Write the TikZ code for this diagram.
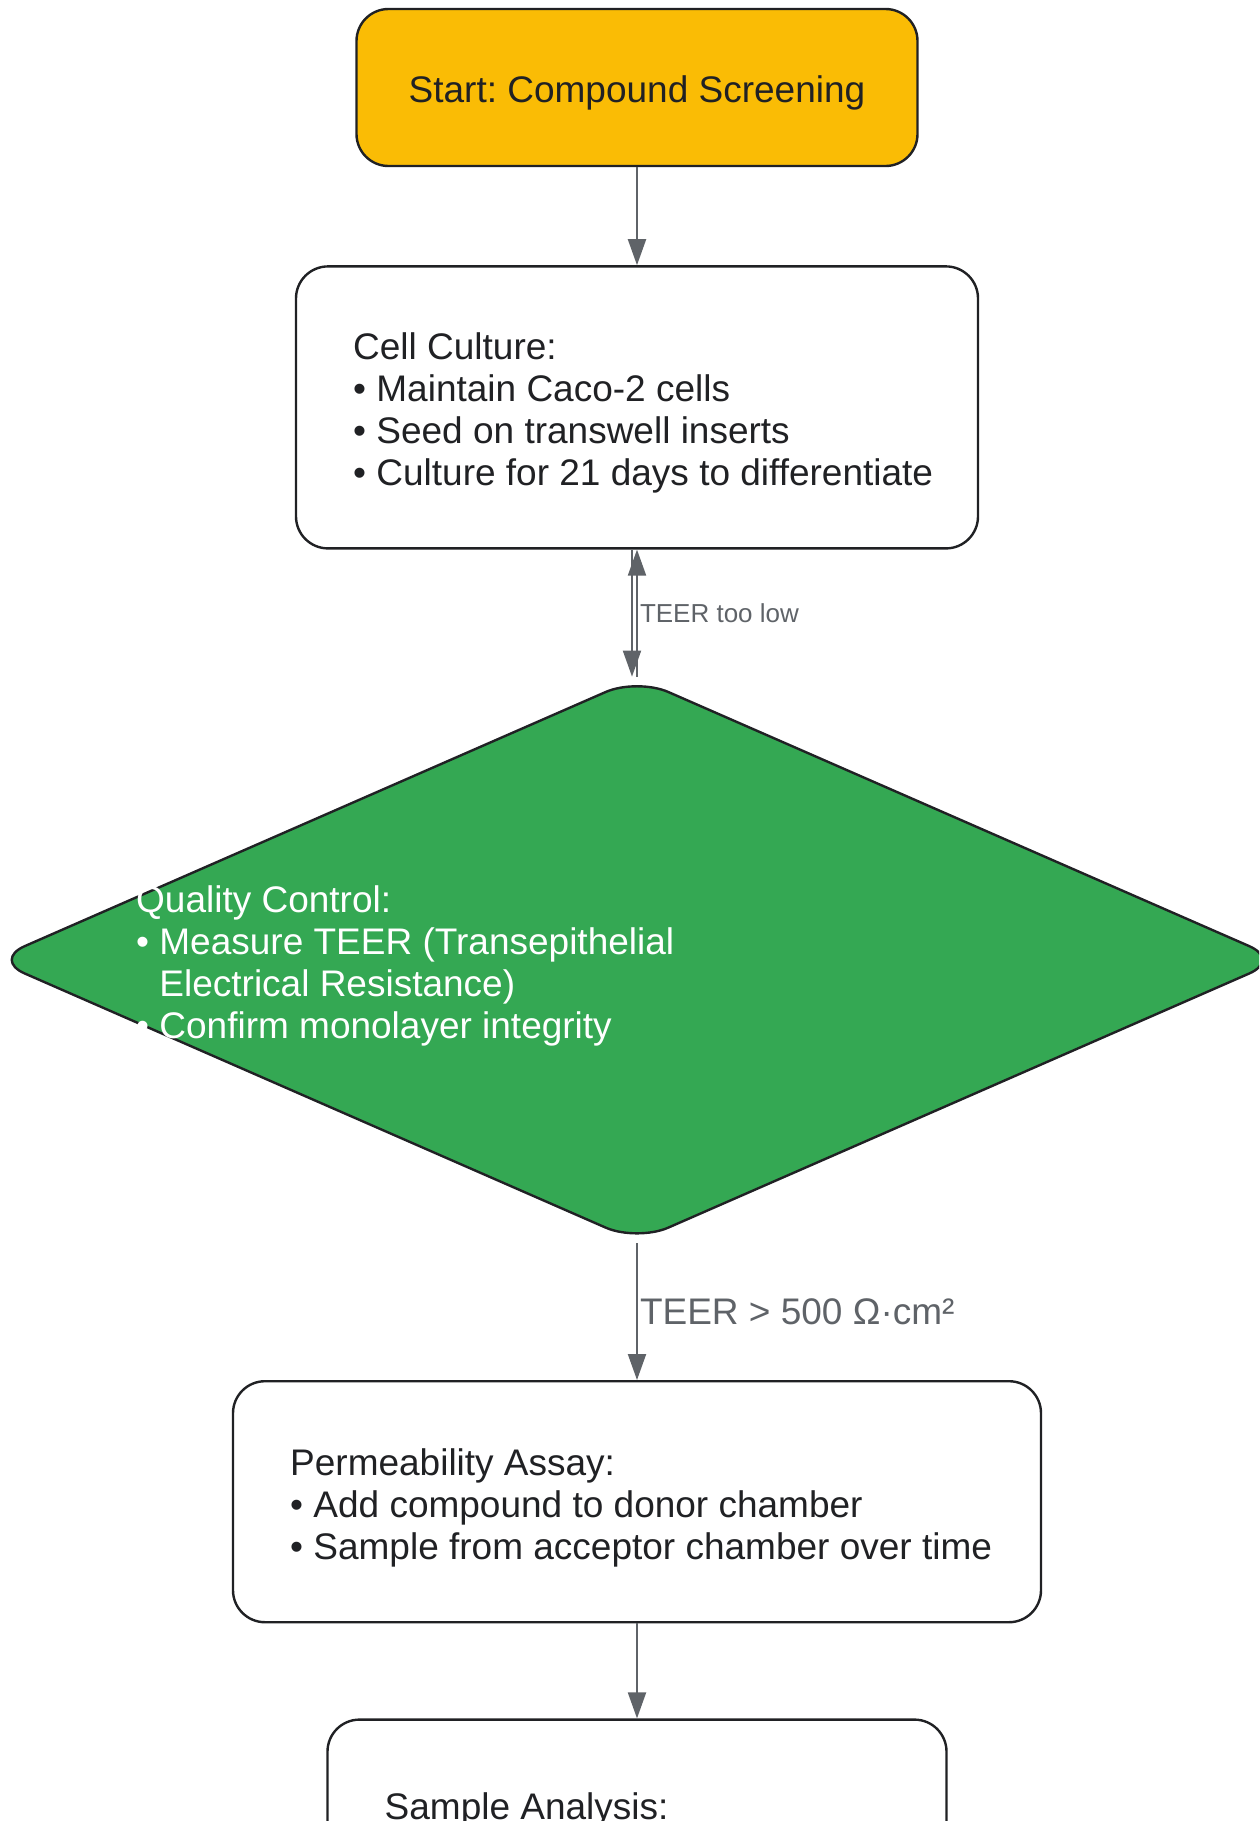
\documentclass[tikz,border=0pt]{standalone}
\usepackage{fontspec}
\setmainfont{Liberation Sans}
\usepackage{tikz}
\usetikzlibrary{arrows.meta, positioning, shapes.geometric}
\frenchspacing

\definecolor{startyellow}{HTML}{FABC05}
\definecolor{qcgreen}{HTML}{34A853}
\definecolor{edgegray}{HTML}{5F6368}
\definecolor{inkdark}{HTML}{202124}

\tikzset{
  box/.style={draw=inkdark, line width=1.2pt, rounded corners=16pt, fill=white},
  boxtext/.style={inner sep=0pt, align=left, text=inkdark, yshift=-3pt, font=\fontsize{18.5}{21}\selectfont},
  flow/.style={draw=edgegray, line width=1pt, -{Triangle[length=13pt,width=9pt]}},
  flowlabel/.style={text=edgegray, inner sep=1pt}
}

\begin{document}
\begin{tikzpicture}
\useasboundingbox (0,0) rectangle (629.5pt,-910.5pt);
\clip (0,0) rectangle (629.5pt,-910.5pt);
\node[box, fill=startyellow, minimum width=280.5pt, minimum height=78.5pt, text height=19pt, text depth=4pt, text=inkdark, font=\fontsize{18.5}{21}\selectfont] (Start) at (318.5pt,-43.75pt) {Start: Compound Screening};
\node[box, minimum width=341pt, minimum height=141pt, below=49pt of Start] (Culture) {};
\node[boxtext, right=29pt of Culture.west] (CultureTxt) {Cell Culture:\\• Maintain Caco-2 cells\\• Seed on transwell inserts\\• Culture for 21 days to differentiate};
\node[diamond, draw=inkdark, line width=1.2pt, fill=qcgreen, rounded corners=17pt, inner sep=0pt, minimum width=644pt, minimum height=282pt, below=63.5pt of Culture] (QC) {};
\node[boxtext, text=white, right=72pt of QC.west] (QCTxt) {Quality Control:\\• Measure TEER (Transepithelial\\\phantom{•\ }Electrical Resistance)\\• Confirm monolayer integrity};
\node[box, minimum width=404pt, minimum height=120.5pt, below=68.5pt of QC] (Assay) {};
\node[boxtext, right=29pt of Assay.west] (AssayTxt) {Permeability Assay:\\• Add compound to donor chamber\\• Sample from acceptor chamber over time};
\node[box, minimum width=309.5pt, minimum height=180pt, below=47.5pt of Assay] (Analysis) {};
\node[boxtext, below right=34pt and 29pt of Analysis.north west] (AnalysisTxt) {Sample Analysis:};
\draw[flow] (Start) -- (Culture);
\draw[flow] ([xshift=-2.5pt]Culture.south) -- ([xshift=-2.5pt]QC.north);
\draw[flow] (QC.north) -- node[flowlabel, right, font=\fontsize{13}{15}\selectfont] (TooLow) {TEER too low} (Culture.south);
\draw[flow] (QC) -- node[flowlabel, right, font=\fontsize{18.5}{21}\selectfont] (PassLbl) {TEER > 500 Ω·cm²} (Assay);
\draw[flow] (Assay) -- (Analysis);
\end{tikzpicture}
\end{document}
